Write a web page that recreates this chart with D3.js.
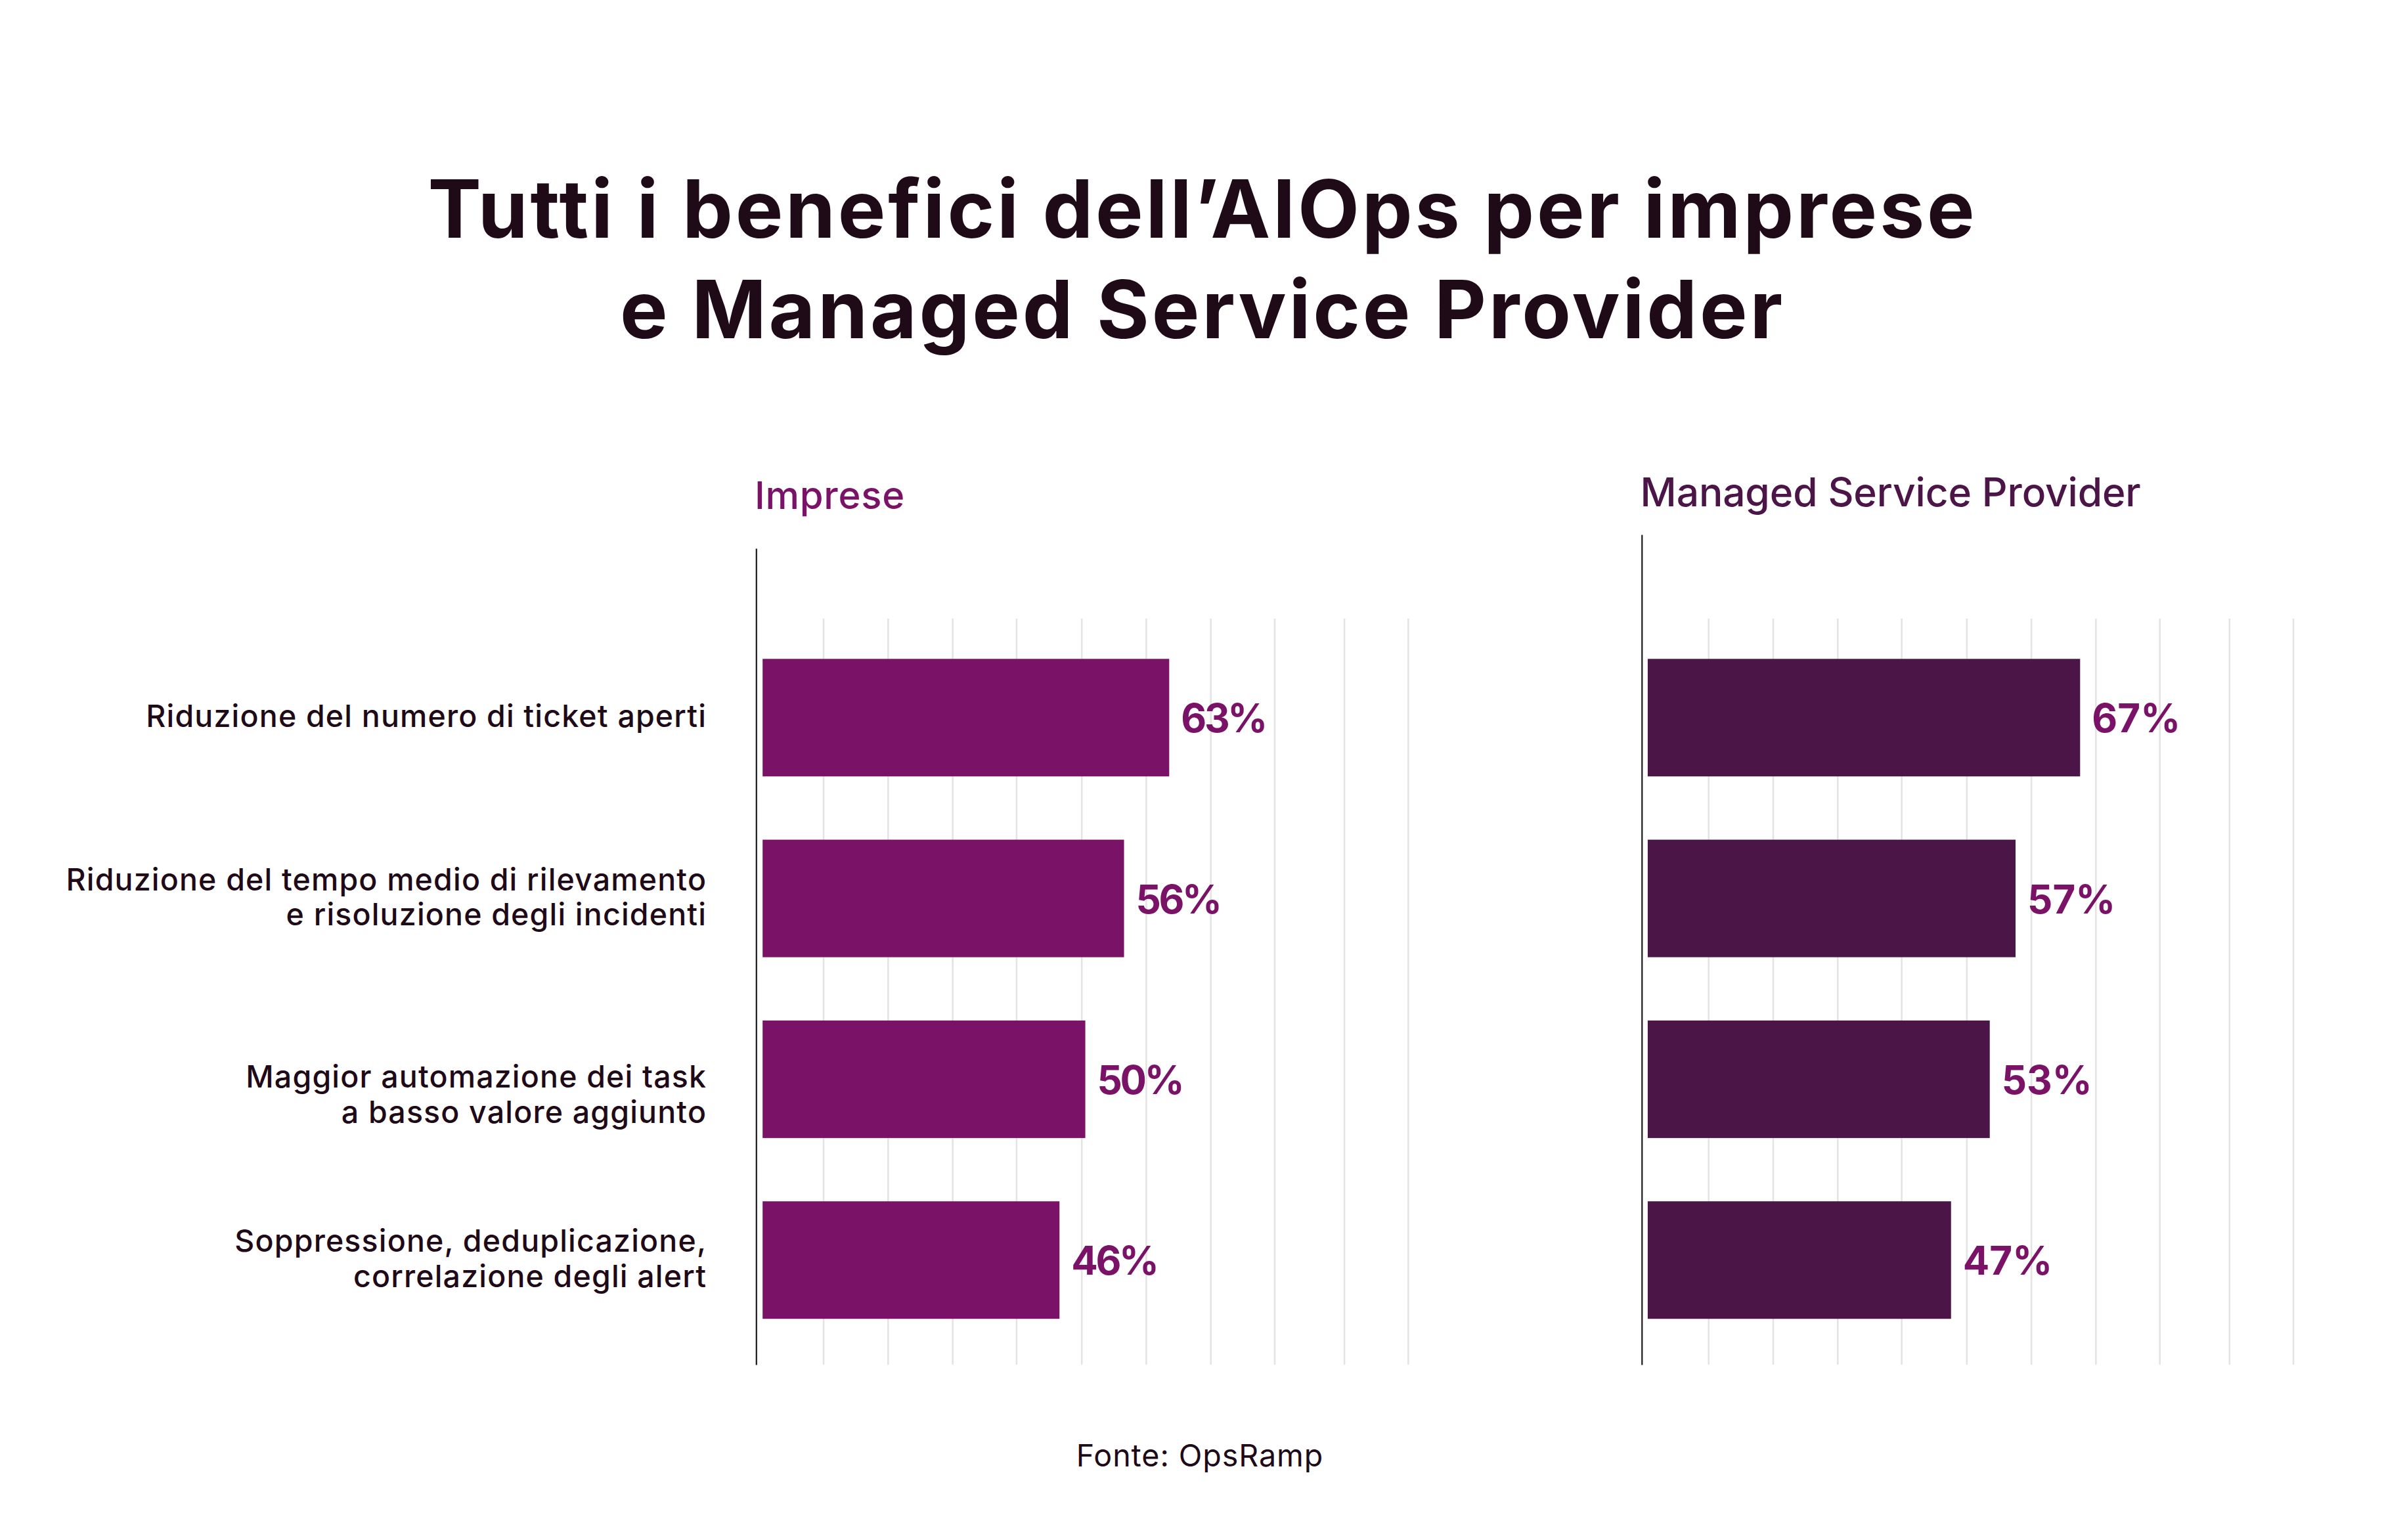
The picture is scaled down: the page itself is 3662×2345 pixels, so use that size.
<!DOCTYPE html>
<html>
<head>
<meta charset="utf-8">
<script src="https://cdn.jsdelivr.net/npm/d3@7"></script>
<style>
  html, body { margin: 0; padding: 0; background: #ffffff; }
  svg { display: block; }
  text { font-family: Inter, "Noto Sans", sans-serif; }
</style>
</head>
<body>
<svg id="chart" width="3662" height="2345"></svg>
<script>
// ---------------- data ----------------
const titleLines = ["Tutti i benefici dell\u2019AIOps per imprese", "e Managed Service Provider"];
const categories = [
  "Riduzione del numero di ticket aperti",
  "Riduzione del tempo medio di rilevamento\ne risoluzione degli incidenti",
  "Maggior automazione dei task\na basso valore aggiunto",
  "Soppressione, deduplicazione,\ncorrelazione degli alert"
];
const panelNames = ["Imprese", "Managed Service Provider"];
const impreseValues = [63, 56, 50, 46];
const mspValues = [67, 57, 53, 47];
const gridTicks = [9.4, 19.4, 29.4, 39.3, 49.4, 59.4, 69.4, 79.3, 90.1, 100];
const sourceText = "Fonte: OpsRamp";

// ---------------- layout / style ----------------
const W = 3662, H = 2345;
const svg = d3.select("#chart");
const dark = "#1F0A18";
const gridColor = "#E4E2E3";
const pxPerPct = 9.827;

// keep font size, adjust letter-spacing so a reference string reaches a target width
function fitSpacing(sel, refNode, target) {
  const len = refNode.getComputedTextLength();
  const n = refNode.textContent.length;
  const ls = (target - len) / n;
  sel.attr("letter-spacing", ls);
  return ls;
}
// adjust font size (with a fixed letter-spacing in em) so a reference string reaches a target width
function fitSize(sel, refNode, target, lsEm) {
  const s0 = parseFloat(d3.select(refNode).attr("font-size"));
  const len = refNode.getComputedTextLength();
  const n = refNode.textContent.length;
  const size = target / (len / s0 + n * lsEm);
  sel.attr("font-size", size).attr("letter-spacing", lsEm * size);
  return size;
}

// Title
const tl = svg.append("g").selectAll("text").data(titleLines).join("text")
  .attr("x", W / 2)
  .attr("y", (d, i) => 362 + i * 152.6)
  .attr("text-anchor", "middle")
  .attr("font-size", 122)
  .attr("font-weight", 700)
  .attr("fill", dark)
  .text(d => d);
fitSpacing(tl, tl.nodes()[0], 2359);

// Category band scale (shared by both panels)
const y = d3.scaleBand()
  .domain(d3.range(categories.length))
  .range([955.1, 2056.4])
  .paddingInner(0.35)
  .paddingOuter(0.175);

const panels = [
  { name: panelNames[0], values: impreseValues, x0: 1161.2, axisX: 1151.3, axisTop: 835,
    barColor: "#7A1367", nameColor: "#7A1367", nameX: 1149, nameY: 775, nameSize: 58, nameW: 229 },
  { name: panelNames[1], values: mspValues, x0: 2508.9, axisX: 2499.8, axisTop: 814,
    barColor: "#4C1547", nameColor: "#4C1547", nameX: 2497.6, nameY: 771, nameSize: 60.5, nameW: 762 }
];

const gridTop = 942, gridBottom = 2078;
const valueTexts = [];

panels.forEach(p => {
  const x = d3.scaleLinear().domain([0, 100]).range([p.x0, p.x0 + 100 * pxPerPct]);
  const g = svg.append("g");

  // gridlines via axis
  const gridAxis = d3.axisBottom(x).tickValues(gridTicks).tickSize(gridBottom - gridTop).tickFormat("");
  const gg = g.append("g").attr("transform", `translate(0,${gridTop})`).call(gridAxis);
  gg.select(".domain").remove();
  gg.selectAll(".tick line").attr("stroke", gridColor).attr("stroke-width", 2.5);

  // vertical axis line
  const yAxisScale = d3.scaleLinear().range([p.axisTop, gridBottom]);
  const ax = g.append("g").attr("transform", `translate(${p.axisX},0)`)
    .call(d3.axisLeft(yAxisScale).tickValues([]).tickSizeOuter(0));
  ax.select(".domain").attr("stroke", "#1a1a1a").attr("stroke-width", 2.2);

  // bars
  g.selectAll("rect.bar").data(p.values).join("rect")
    .attr("class", "bar")
    .attr("x", x(0))
    .attr("y", (d, i) => y(i))
    .attr("width", d => x(d) - x(0))
    .attr("height", y.bandwidth())
    .attr("fill", p.barColor);

  // value labels
  const vl = g.selectAll("text.val").data(p.values).join("text")
    .attr("class", "val")
    .attr("x", d => x(d) + 18)
    .attr("y", (d, i) => y(i) + y.bandwidth() / 2 + 22.5)
    .attr("font-family", "Lato, Inter, sans-serif")
    .attr("font-size", 65)
    .attr("font-weight", 700)
    .attr("fill", "#7A1367")
    .text(d => d + "%");
  valueTexts.push(vl);

  // panel name
  const pn = g.append("text")
    .attr("x", p.nameX)
    .attr("y", p.nameY)
    .attr("font-size", p.nameSize)
    .attr("font-weight", 500)
    .attr("fill", p.nameColor)
    .text(p.name);
  fitSpacing(pn, pn.node(), p.nameW);
});

// fit value label size on "63%" and apply to all value labels
const refVal = valueTexts[0].nodes()[0];
const vSize = 65 * 128.6 / refVal.getComputedTextLength();
const vSizeUsed = Math.max(vSize, 60);
valueTexts.forEach(vl => vl.attr("font-size", vSizeUsed)
  .attr("letter-spacing", (128.6 - refVal.getComputedTextLength()) / 3));

// Category labels
const labelX = 1075;
const lineH = 53.5;
const labelNudge = [0, 0, 25, 0]; // irregular vertical placement in the original
const labels = svg.append("g").selectAll("text").data(categories).join("text")
  .attr("text-anchor", "end")
  .attr("font-size", 39)
  .attr("font-weight", 500)
  .attr("fill", dark);
labels.each(function(d, i) {
  const lines = d.split("\n");
  const cy = y(i) + y.bandwidth() / 2 + labelNudge[i];
  const capH = 29;
  const first = cy - ((lines.length - 1) * lineH) / 2 + capH / 2;
  d3.select(this).selectAll("tspan").data(lines).join("tspan")
    .attr("x", labelX)
    .attr("y", (l, k) => first + k * lineH)
    .text(l => l);
});
const refSpan = labels.filter((d, i) => i === 1).select("tspan").node();
const labelLsEm = 0.025;
const s0 = 39;
const refLen = refSpan.getComputedTextLength();
const labelSize = 976 / (refLen / s0 + refSpan.textContent.length * labelLsEm);
labels.attr("font-size", labelSize).attr("letter-spacing", labelLsEm * labelSize);
labels.selectAll("tspan").attr("x", labelX + labelLsEm * labelSize);

// Source
const src = svg.append("text")
  .attr("x", W / 2 - 4)
  .attr("y", 2233)
  .attr("text-anchor", "middle")
  .attr("font-size", 41)
  .attr("font-weight", 400)
  .attr("fill", dark)
  .text(sourceText);
fitSize(src, src.node(), 376.7, 0.02);
</script>
</body>
</html>
